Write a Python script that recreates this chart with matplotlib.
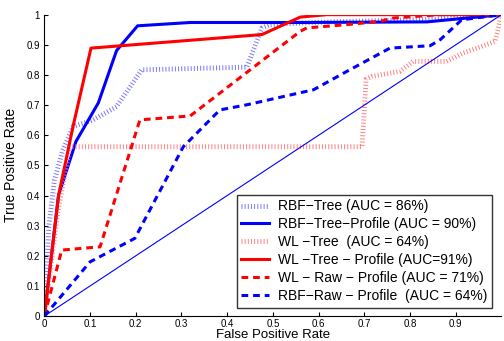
import numpy as np
import matplotlib
matplotlib.use("Agg")
from matplotlib import pyplot as plt

plt.rcParams['font.family'] = ['Liberation Sans', 'DejaVu Sans']

# ROC curves (false positive rate, true positive rate)
rbf_tree_x = [0, 0.01, 0.022, 0.04, 0.063, 0.107, 0.158, 0.213, 0.443, 0.476, 0.494, 0.6, 0.85, 1.0]
rbf_tree_y = [0, 0.30, 0.45, 0.55, 0.629, 0.651, 0.695, 0.817, 0.826, 0.956, 0.967, 0.975, 0.985, 1.0]

rbf_prof_x = [0, 0.031, 0.069, 0.118, 0.158, 0.204, 0.319, 0.55, 0.837, 1.0]
rbf_prof_y = [0, 0.40, 0.579, 0.707, 0.881, 0.963, 0.974, 0.974, 0.976, 1.0]

wl_tree_x = [0, 0.03, 0.056, 0.695, 0.704, 0.716, 0.778, 0.807, 0.880, 0.917, 0.986, 1.0]
wl_tree_y = [0, 0.35, 0.562, 0.562, 0.786, 0.795, 0.812, 0.845, 0.845, 0.873, 0.911, 1.0]

wl_prof_x = [0, 0.031, 0.063, 0.102, 0.319, 0.476, 0.56, 0.618, 1.0]
wl_prof_y = [0, 0.40, 0.631, 0.889, 0.915, 0.934, 0.992, 1.0, 1.0]

wl_raw_x = [0, 0.038, 0.122, 0.209, 0.319, 0.56, 0.574, 0.662, 0.735, 0.764, 0.866, 1.0]
wl_raw_y = [0, 0.219, 0.230, 0.651, 0.664, 0.945, 0.956, 0.967, 0.978, 0.989, 1.0, 1.0]

rbf_raw_x = [0, 0.1, 0.198, 0.304, 0.384, 0.443, 0.589, 0.662, 0.756, 0.844, 0.866, 0.913, 1.0]
rbf_raw_y = [0, 0.18, 0.258, 0.562, 0.684, 0.701, 0.751, 0.812, 0.889, 0.897, 0.917, 0.983, 1.0]

labels = ["RBF\u2212Tree (AUC = 86%)",
          "RBF\u2212Tree\u2212Profile (AUC = 90%)",
          "WL \u2212Tree  (AUC = 64%)",
          "WL \u2212Tree \u2212 Profile (AUC=91%)",
          "WL \u2212 Raw \u2212 Profile (AUC = 71%)",
          "RBF\u2212Raw \u2212 Profile  (AUC = 64%)"]

fig = plt.figure(figsize=(5.04, 3.41), dpi=100)
ax = fig.add_axes([0.088, 0.073, 0.907, 0.884])

dot = (0, (0.2, 0.45))
dash = (0, (2.2, 1.6))
ax.plot(rbf_tree_x, rbf_tree_y, color="#7878ff", lw=3.5, ls=dot, dash_capstyle="butt", label=labels[0])
ax.plot(rbf_prof_x, rbf_prof_y, color="#0000ff", lw=2.2, label=labels[1])
ax.plot(wl_tree_x, wl_tree_y, color="#ff8080", lw=3.5, ls=dot, dash_capstyle="butt", label=labels[2])
ax.plot(wl_prof_x, wl_prof_y, color="#ff0000", lw=2.2, label=labels[3])
ax.plot(wl_raw_x, wl_raw_y, color="#ff0000", lw=2.2, ls=dash, label=labels[4])
ax.plot(rbf_raw_x, rbf_raw_y, color="#0000ff", lw=2.2, ls=dash, label=labels[5])
ax.plot([0, 1], [0, 1], color="#0000ff", lw=0.8)

ax.set_xlim(0, 1)
ax.set_ylim(0, 1)
ax.set_xticks(np.arange(0, 1.0, 0.1))
ax.set_xticklabels(["0"] + ["%.1f" % v for v in np.arange(0.1, 0.95, 0.1)])
ax.set_yticks(np.arange(0, 1.01, 0.1))
ax.set_yticklabels(["0"] + ["%.1f" % v for v in np.arange(0.1, 0.95, 0.1)] + ["1"])
ax.tick_params(direction="in", labelsize=7, length=3, width=0.8, pad=3)
ax.tick_params(axis="x", pad=2)
ax.spines["top"].set_visible(False)
ax.spines["right"].set_visible(False)
ax.set_xlabel("False Positive Rate", fontsize=9.5, labelpad=0)
ax.set_ylabel("True Positive Rate", fontsize=10, labelpad=6)

leg = ax.legend(loc="lower right", bbox_to_anchor=(0.997, 0.0), fontsize=10,
                frameon=True, fancybox=False,
                handlelength=2.0, handletextpad=0.6, labelspacing=0.28,
                borderpad=0.35, borderaxespad=0.6)
leg.get_frame().set_edgecolor("black")
leg.get_frame().set_linewidth(1.0)

fig.savefig("out.png", dpi=100)
